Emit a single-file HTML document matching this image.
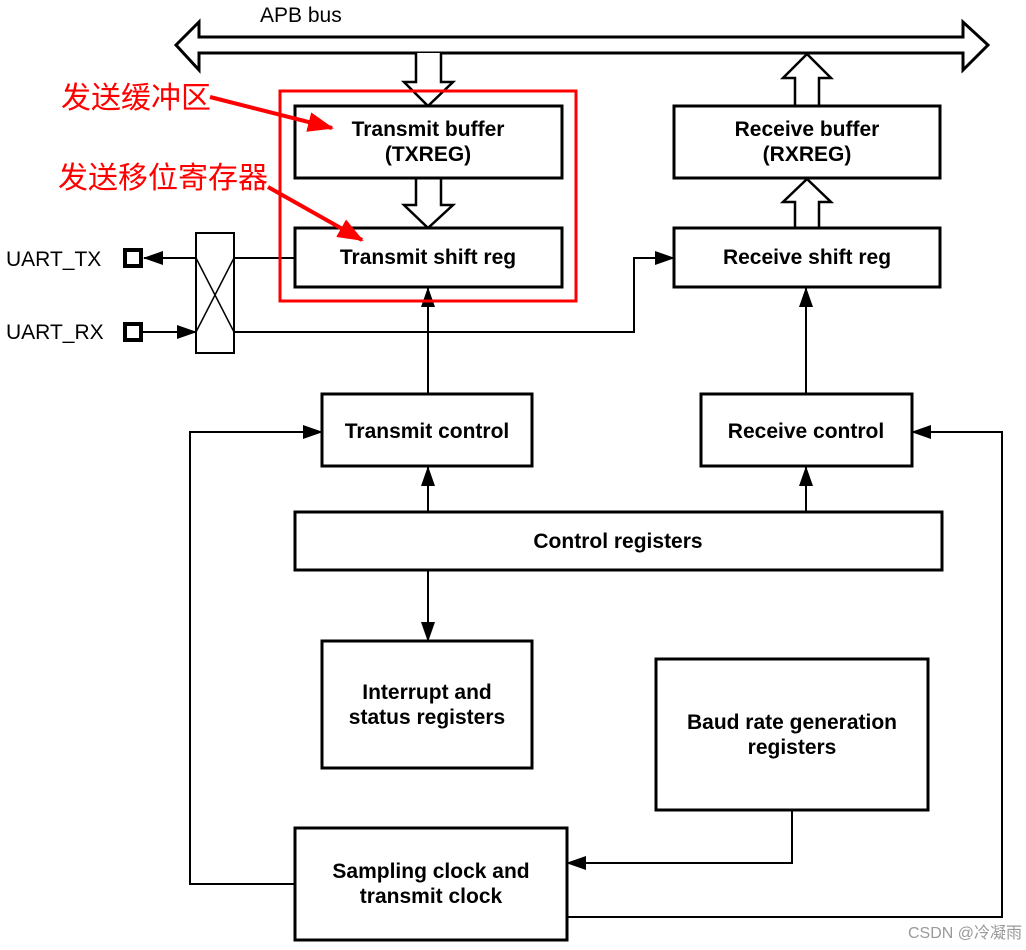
<!DOCTYPE html>
<html><head><meta charset="utf-8"><style>
html,body{margin:0;padding:0;background:#fff;}
svg{display:block;}
.b{font-family:"Liberation Sans",Arial,sans-serif;font-weight:bold;font-size:21px;fill:#000;text-anchor:middle;}
.n{font-family:"Liberation Sans",Arial,sans-serif;font-size:21px;fill:#000;}
.cn{font-family:"Liberation Sans","Noto Sans CJK SC",sans-serif;font-size:30px;fill:#f00;}
</style></head><body>
<svg width="1026" height="950" viewBox="0 0 1026 950" xmlns="http://www.w3.org/2000/svg">
<defs>
<marker id="a" markerWidth="20" markerHeight="14" refX="19" refY="7" orient="auto" markerUnits="userSpaceOnUse" viewBox="0 0 20 14"><path d="M0,0 L20,7 L0,14 z" fill="#000"/></marker>
<marker id="r" markerWidth="26" markerHeight="20" refX="24" refY="10" orient="auto" markerUnits="userSpaceOnUse" viewBox="0 0 26 20"><path d="M0,0 L26,10 L0,20 z" fill="#f00"/></marker>
</defs>
<text class="n" x="260" y="22">APB bus</text>
<path d="M176,45 L199,22 L199,37 L963,37 L963,22 L988,45 L963,70 L963,53 L199,53 L199,70 Z" fill="#fff" stroke="#000" stroke-width="3" stroke-linejoin="miter"/>
<path d="M416,53 L416,82 L404,82 L428,106 L453,82 L441,82 L441,53" fill="#fff" stroke="#000" stroke-width="2.5"/>
<path d="M416,178 L416,205 L404,205 L428,228 L453,205 L441,205 L441,178" fill="#fff" stroke="#000" stroke-width="2.5"/>
<path d="M795,106 L795,78 L783,78 L807,54 L831,78 L819,78 L819,106" fill="#fff" stroke="#000" stroke-width="2.5"/>
<path d="M795,228 L795,202 L783,202 L807,179 L831,202 L819,202 L819,228" fill="#fff" stroke="#000" stroke-width="2.5"/>
<g fill="#fff" stroke="#000" stroke-width="3">
<rect x="295" y="106" width="267" height="72"/>
<rect x="295" y="228" width="267" height="59"/>
<rect x="674" y="106" width="266" height="72"/>
<rect x="674" y="228" width="266" height="59"/>
<rect x="322" y="394" width="210" height="72"/>
<rect x="701" y="394" width="211" height="72"/>
<rect x="295" y="512" width="647" height="58"/>
<rect x="322" y="641" width="210" height="127"/>
<rect x="656" y="659" width="272" height="151"/>
<rect x="295" y="828" width="272" height="112"/>
</g>
<g fill="#fff" stroke="#000" stroke-width="4">
<rect x="125" y="250" width="16" height="16"/>
<rect x="125" y="324" width="16" height="16"/>
</g>
<rect x="196" y="233" width="38" height="120" fill="#fff" stroke="#000" stroke-width="2"/>
<path d="M196,258 L234,332 M234,258 L196,332" stroke="#000" stroke-width="1.5" fill="none"/>
<g stroke="#000" stroke-width="2" fill="none">
<path d="M196,258 L144,258" marker-end="url(#a)"/>
<path d="M234,258 L295,258"/>
<path d="M143,332 L196,332" marker-end="url(#a)"/>
<path d="M234,332 L634,332 L634,258 L674,258" marker-end="url(#a)"/>
<path d="M428,394 L428,288" marker-end="url(#a)"/>
<path d="M806,394 L806,288" marker-end="url(#a)"/>
<path d="M428,512 L428,467" marker-end="url(#a)"/>
<path d="M806,512 L806,467" marker-end="url(#a)"/>
<path d="M428,570 L428,641" marker-end="url(#a)"/>
<path d="M792,810 L792,863 L567,863" marker-end="url(#a)"/>
<path d="M295,884 L190,884 L190,432 L322,432" marker-end="url(#a)"/>
<path d="M567,917 L1002,917 L1002,432 L912,432" marker-end="url(#a)"/>
</g>
<rect x="280" y="91" width="296" height="210" fill="none" stroke="#f00" stroke-width="3"/>
<text class="n" x="6" y="266">UART_TX</text>
<text class="n" x="6" y="339">UART_RX</text>
<text class="b" x="428" y="136">Transmit buffer</text>
<text class="b" x="428" y="161">(TXREG)</text>
<text class="b" x="428" y="264">Transmit shift reg</text>
<text class="b" x="807" y="136">Receive buffer</text>
<text class="b" x="807" y="161">(RXREG)</text>
<text class="b" x="807" y="264">Receive shift reg</text>
<text class="b" x="427" y="438">Transmit control</text>
<text class="b" x="806" y="438">Receive control</text>
<text class="b" x="618" y="548">Control registers</text>
<text class="b" x="427" y="699">Interrupt and</text>
<text class="b" x="427" y="724">status registers</text>
<text class="b" x="792" y="729">Baud rate generation</text>
<text class="b" x="792" y="754">registers</text>
<text class="b" x="431" y="878">Sampling clock and</text>
<text class="b" x="431" y="903">transmit clock</text>
<text class="cn" x="61" y="108">发送缓冲区</text>
<text class="cn" x="58" y="188">发送移位寄存器</text>
<g stroke="#f00" stroke-width="4" fill="none">
<path d="M210,97 L332,128" marker-end="url(#r)"/>
<path d="M268,187 L362,240" marker-end="url(#r)"/>
</g>
<text x="1022" y="938" text-anchor="end" font-family="Liberation Sans,Noto Sans CJK SC,sans-serif" font-size="16" fill="#999">CSDN @冷凝雨</text>
</svg>
</body></html>
